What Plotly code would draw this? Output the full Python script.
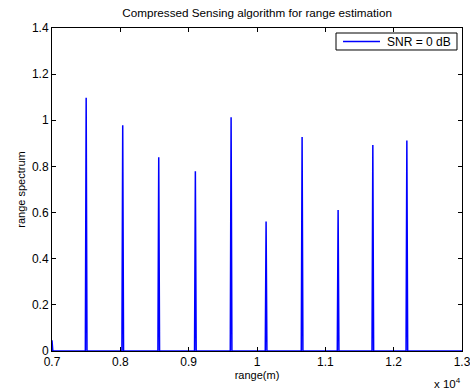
import plotly.graph_objects as go

# Data
peak_range_m = [7000, 7500, 8035, 8562, 9098, 9621, 10133, 10660, 11187, 11695, 12193]
peak_height = [0.046, 1.098, 0.978, 0.840, 0.779, 1.013, 0.561, 0.928, 0.611, 0.893, 0.912]
x_tick_vals = [7000, 8000, 9000, 10000, 11000, 12000, 13000]
x_tick_text = ["0.7", "0.8", "0.9", "1", "1.1", "1.2", "1.3"]
y_tick_vals = [0, 0.2, 0.4, 0.6, 0.8, 1.0, 1.2, 1.4]
y_tick_text = ["0", "0.2", "0.4", "0.6", "0.8", "1", "1.2", "1.4"]
series_name = "SNR = 0 dB"

# Build spectrum line: narrow spikes with zero baseline
half_w = 12
xs, ys = [], []
for r, h in zip(peak_range_m, peak_height):
    if r <= 7000:
        xs += [r, r + half_w]
        ys += [h, 0]
    else:
        xs += [r - half_w, r, r + half_w]
        ys += [0, h, 0]
xs = [7000] + xs + [13000]
ys = [0] + ys + [0]

blue = "#0000ff"
fig = go.Figure()
fig.add_trace(go.Scatter(x=xs, y=ys, mode="lines", name=series_name,
                         line=dict(color=blue, width=1.5), showlegend=False))

font = dict(family="Liberation Sans, Arial, sans-serif", size=11, color="black")
fig.update_layout(
    width=470, height=391,
    margin=dict(l=52, r=8, t=28, b=40, autoexpand=False),
    paper_bgcolor="white", plot_bgcolor="white",
    font=font,
    title=dict(text="Compressed Sensing algorithm for range estimation",
               x=0.547, xanchor="center", y=0.966, yanchor="middle",
               font=dict(family="Liberation Sans, Arial, sans-serif", size=11.7)),
    xaxis=dict(range=[7000, 13000], tickvals=x_tick_vals, ticktext=x_tick_text,
               ticks="inside", ticklen=4, tickcolor="black", showline=True,
               linecolor="black", linewidth=1, mirror="ticks", showgrid=False,
               zeroline=False, tickfont=dict(size=12), ticklabeloverflow="allow",
               automargin=False,
               title=dict(text="range(m)", standoff=2, font=dict(size=11))),
    yaxis=dict(range=[0, 1.4], tickvals=y_tick_vals, ticktext=y_tick_text,
               ticks="inside", ticklen=4, tickcolor="black", showline=True,
               linecolor="black", linewidth=1, mirror="ticks", showgrid=False,
               zeroline=False, tickfont=dict(size=12), automargin=False,
               title=dict(text="range spectrum", standoff=4, font=dict(size=11))),
)

# MATLAB-style legend box
fig.add_shape(type="rect", xref="paper", yref="paper",
              x0=0.6927, x1=0.9878, y0=0.9319, y1=0.9845,
              line=dict(color="black", width=1), fillcolor="white", layer="above")
fig.add_shape(type="line", xref="paper", yref="paper",
              x0=0.7098, x1=0.80, y0=0.9582, y1=0.9582,
              line=dict(color=blue, width=1.5), layer="above")
fig.add_annotation(text=series_name, xref="paper", yref="paper",
                   x=0.812, y=0.9582, xanchor="left", yanchor="middle",
                   showarrow=False, font=dict(size=12))

fig.add_annotation(text="x 10<sup>4</sup>", xref="paper", yref="paper",
                   x=0.965, y=-0.099, xanchor="center", yanchor="middle",
                   showarrow=False, font=dict(size=11.5))
fig.write_html("out.html")
